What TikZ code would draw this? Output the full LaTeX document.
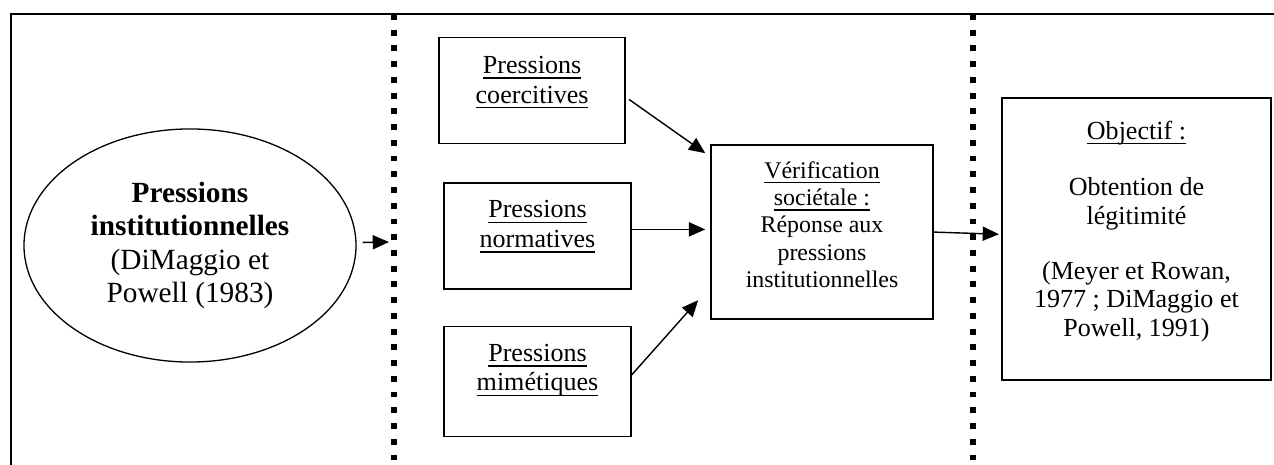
\documentclass[tikz,border=0pt]{standalone}
\usepackage{fontspec}
\setmainfont{Liberation Serif}
\usetikzlibrary{shapes.geometric}
\usetikzlibrary{positioning}
\usetikzlibrary{arrows.meta}
\newcommand{\souligne}[1]{\hbox{\setbox0\hbox{#1}\rlap{\vrule width\wd0 height -1.8pt depth 2.4pt}\box0}}
\tikzset{node distance=67pt,
    boite/.style={
        draw,
        line width=.7pt,
        align=center,
        inner xsep=4pt,
        inner ysep=4pt,
        minimum width=86.2pt,
        font=\fontsize{12}{13.6}\selectfont},
    bulle/.style={
        draw,
        ellipse,
        line width=.6pt,
        minimum width=153pt,
        minimum height=107.4pt,
        inner sep=0pt,
        align=center,
        font=\fontsize{13.5}{15.3}\selectfont},
    frontiere/.style={
        line width=3.2pt,
        dash pattern=on 2.7pt off 4.55pt},
    every edge/.style={
        draw,
        -{Triangle[length=7.5pt,width=6.5pt]},
        line width=.65pt}}

\begin{document}
\begin{tikzpicture}[x=0.4608pt,y=-0.4608pt]
        \useasboundingbox (0,0) rectangle (1274,465);
        \draw[line width=.7pt] (1274,14) -- (11,14) -- (11,465);
        \draw[frontiere] (394,14) -- (394,465);
        \draw[frontiere] (973,14) -- (973,465);
        \node[bulle] (inst) at (190,245.5) {\textbf{Pressions}\\\textbf{institutionnelles}\\(DiMaggio et\\Powell (1983)};
        \coordinate (gate) at (389,242);
        \node[boite, text height=25.7pt, text depth=15.1pt] (norm) at (537.5,236) {\souligne{Pressions}\\\souligne{normatives}};
        \node[boite, above of=norm, xshift=-2.5pt, minimum width=85.7pt, text height=26.2pt, text depth=14.7pt] (coer) {\souligne{Pressions}\\\souligne{coercitives}};
        \node[boite, below of=norm, text height=25.7pt, text depth=17pt] (mim) {\souligne{Pressions}\\\souligne{mimétiques}};
        \node[boite, node distance=131.1pt, right of=norm, yshift=1.8pt, minimum width=102.3pt, text height=61.6pt, text depth=10.6pt, font=\fontsize{11}{12.6}\selectfont] (verif) {\souligne{Vérification}\\\souligne{sociétale :}\\Réponse aux\\pressions\\institutionnelles};
        \node[boite, node distance=144.9pt, right of=verif, yshift=-3.2pt, minimum width=124pt, text height=105.9pt, text depth=16pt, font=\fontsize{12}{13.2}\selectfont] (obj) {\souligne{Objectif :}\\[13pt]Obtention de\\légitimité\\[12pt](Meyer et Rowan,\\1977 ; DiMaggio et\\Powell, 1991)};
        \draw (inst) edge[shorten <=2.8pt] (gate);
        \draw (coer.-4) edge[shorten <=1.8pt, shorten >=2.8pt] (verif.146);
        \draw (norm.4) edge[shorten >=2.3pt] (norm.4 -| verif.west);
        \draw (mim.4) edge[shorten >=8.4pt] (verif.206);
        \draw (verif.east) edge[shorten >=1pt] (obj.178);
    \end{tikzpicture}
\end{document}
